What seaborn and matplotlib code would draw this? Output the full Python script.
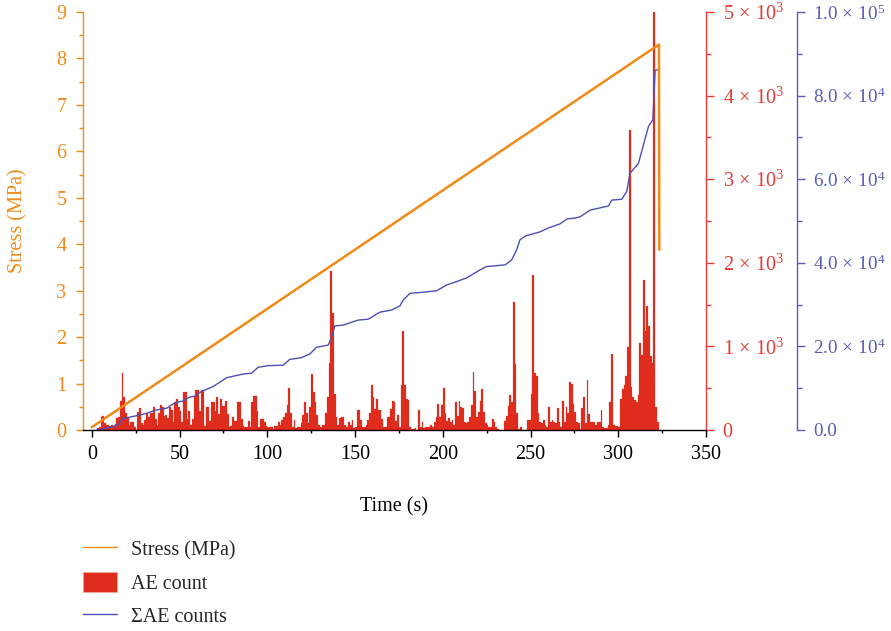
import numpy as np
import matplotlib
matplotlib.use("Agg")
import matplotlib.pyplot as plt
import seaborn as sns
from matplotlib.lines import Line2D
from matplotlib.patches import Patch
from matplotlib.ticker import MultipleLocator, FixedLocator, FixedFormatter

# ---------------- data ----------------
stress_time = [0.0, 323.2, 323.4]
stress_mpa = [0.06, 8.30, 3.88]

# AE count per 1-s bin, starting at t = 0 s
ae_count = [
    0, 0, 0, 20, 40, 160, 170, 80, 60, 60,
    50, 60, 50, 70, 140, 150, 350, 680, 400, 200,
    160, 60, 100, 90, 30, 0, 220, 260, 80, 60,
    120, 200, 150, 200, 200, 280, 130, 60, 200, 300,
    280, 170, 180, 140, 270, 240, 100, 340, 370, 270,
    230, 100, 460, 450, 130, 230, 60, 130, 410, 480,
    480, 230, 480, 480, 50, 280, 280, 110, 330, 330,
    230, 400, 190, 370, 290, 290, 350, 190, 30, 50,
    150, 110, 110, 330, 330, 130, 50, 30, 30, 110,
    30, 330, 410, 410, 230, 30, 130, 130, 90, 50,
    30, 30, 30, 10, 50, 50, 90, 60, 120, 160,
    200, 300, 500, 200, 40, 120, 20, 30, 40, 80,
    180, 340, 200, 80, 280, 670, 460, 340, 180, 60,
    40, 60, 60, 200, 400, 800, 1900, 1400, 430, 160,
    60, 140, 150, 150, 60, 40, 100, 60, 120, 20,
    40, 240, 240, 120, 40, 40, 60, 120, 200, 540,
    400, 250, 370, 240, 240, 130, 40, 30, 160, 160,
    250, 350, 340, 110, 180, 40, 540, 1180, 540, 370,
    360, 30, 10, 10, 20, 0, 240, 40, 90, 20,
    30, 30, 30, 60, 30, 100, 160, 310, 150, 300,
    500, 200, 110, 140, 90, 120, 60, 340, 170, 350,
    280, 260, 100, 80, 100, 160, 300, 690, 470, 160,
    220, 350, 490, 220, 80, 60, 30, 30, 130, 100,
    30, 10, 0, 0, 0, 110, 170, 290, 420, 340,
    1535, 786, 200, 10, 30, 0, 0, 0, 120, 120,
    430, 1850, 680, 650, 200, 100, 80, 120, 60, 40,
    280, 100, 120, 100, 80, 260, 90, 30, 350, 100,
    280, 200, 580, 550, 310, 220, 100, 80, 10, 260,
    390, 80, 600, 190, 90, 90, 100, 60, 90, 100,
    240, 40, 20, 20, 60, 340, 910, 60, 50, 50,
    40, 370, 490, 540, 640, 990, 3590, 520, 400, 360,
    340, 420, 1040, 900, 1800, 1180, 1480, 1240, 880, 800,
    5000, 280, 100,
]
ae_time = list(range(len(ae_count)))

cum_time = [3, 10, 15, 17.7, 19.8, 27.4, 31.2, 36.9, 42.6, 45.4, 48.6, 52, 55.9,
            58.7, 62.5, 69.2, 76.8, 86.3, 91.1, 94.8, 100.5, 109, 112.9, 119.5,
            124.3, 128.1, 134.7, 136.5, 138.5, 143.3, 151.8, 157.5, 164.2, 170.9,
            175.6, 177.5, 181.3, 187, 196.5, 202.2, 207.9, 213.6, 218.4, 221.2,
            225, 235.5, 239.3, 242.1, 244, 247, 255.4, 260, 266.8, 270.8, 275.4,
            278.2, 284, 294.4, 296.3, 302, 304.8, 306.7, 311.5, 317.2, 319.7,
            321, 322.9]
cum_count = [0, 600, 1200, 2700, 2900, 3600, 4000, 4800, 5200, 6000, 6700, 6900, 7900,
             8100, 9200, 10400, 12500, 13400, 13600, 15000, 15400, 15500, 16900, 17300,
             18200, 19800, 20300, 22000, 24900, 25100, 26300, 26500, 28200, 28700,
             29700, 31100, 32700, 32900, 33300, 34700, 35500, 36400, 37600, 38300,
             39100, 39500, 40700, 43100, 45500, 46400, 47400, 48300, 49300, 50500, 50700,
             51000, 52600, 53600, 55000, 55200, 57000, 61400, 63800, 72600, 74200,
             86000, 86300]

x_ticks = [0, 50, 100, 150, 200, 250, 300, 350]
stress_ticks = [0, 1, 2, 3, 4, 5, 6, 7, 8, 9]
red_ticks = [0, 1000, 2000, 3000, 4000, 5000]
red_tick_labels = ["0", r"$1\,\times\,10^{3}$", r"$2\,\times\,10^{3}$", r"$3\,\times\,10^{3}$",
                   r"$4\,\times\,10^{3}$", r"$5\,\times\,10^{3}$"]
blue_ticks = [0, 20000, 40000, 60000, 80000, 100000]
blue_tick_labels = ["0.0", r"$2.0\,\times\,10^{4}$", r"$4.0\,\times\,10^{4}$",
                    r"$6.0\,\times\,10^{4}$", r"$8.0\,\times\,10^{4}$",
                    r"$1.0\,\times\,10^{5}$"]
legend_labels = ["Stress (MPa)", "AE count", "ΣAE counts"]

# ---------------- style ----------------
ORANGE = "#F38A17"
RED = "#DF2C1C"
RED_AX = "#E63B36"
BLUE = "#4D4FB5"
BLUE_AX = "#5A5DB8"
FS = 14.5

sns.set_theme(style="white")
plt.rcParams["font.family"] = ["Liberation Serif", "DejaVu Serif"]
plt.rcParams["mathtext.fontset"] = "custom"
plt.rcParams["mathtext.rm"] = "Liberation Serif"
plt.rcParams["mathtext.it"] = "Liberation Serif:italic"
plt.rcParams["mathtext.bf"] = "Liberation Serif:bold"
plt.rcParams["axes.unicode_minus"] = False

fig = plt.figure(figsize=(8.91, 6.31), dpi=100)
L, R, T, B = 83, 706, 12, 430
ax = fig.add_axes([L / 891, 1 - B / 631, (R - L) / 891, (B - T) / 631])
ax_red = ax.twinx()
ax_blue = ax.twinx()

ax.set_zorder(3)
ax.patch.set_visible(False)
ax_blue.set_zorder(2)
ax_blue.patch.set_visible(False)
ax_red.set_zorder(1)

# bars
sns.histplot(x=ae_time, weights=ae_count, binwidth=1, binrange=(0, len(ae_count)),
             color=RED, edgecolor=RED, linewidth=0.15, alpha=1.0, ax=ax_red)
# cumulative
sns.lineplot(x=cum_time, y=cum_count, color=BLUE, linewidth=1.0, ax=ax_blue)
# stress
sns.lineplot(x=stress_time, y=stress_mpa, color=ORANGE, linewidth=1.8, ax=ax)

# limits
ax.set_xlim(-5, 350)
ax.set_ylim(0, 9)
ax_red.set_ylim(0, 5000)
ax_blue.set_ylim(0, 100000)
ax_red.set_xlim(-5, 350)

# spines
for a in (ax, ax_red, ax_blue):
    for s in a.spines.values():
        s.set_visible(False)
ax.spines["left"].set_visible(True)
ax.spines["left"].set_color(ORANGE)
ax.spines["bottom"].set_visible(True)
ax.spines["bottom"].set_color("black")
ax_red.spines["right"].set_visible(True)
ax_red.spines["right"].set_color(RED_AX)
ax_blue.spines["right"].set_visible(True)
ax_blue.spines["right"].set_color(BLUE_AX)
ax_blue.spines["right"].set_position(("axes", 1 + 91 / 623))
for a in (ax, ax_red, ax_blue):
    for s in a.spines.values():
        s.set_linewidth(1.0)

# ticks
ax.xaxis.set_major_locator(FixedLocator(x_ticks))
ax.xaxis.set_minor_locator(MultipleLocator(25))
ax.yaxis.set_major_locator(FixedLocator(stress_ticks))
ax.yaxis.set_minor_locator(MultipleLocator(0.5))
ax.tick_params(axis="x", which="major", direction="out", length=5, width=1,
               colors="black", labelsize=FS, pad=6, bottom=True)
ax.tick_params(axis="x", which="minor", direction="out", length=2.5, width=1,
               colors="black", bottom=True)
ax.tick_params(axis="y", which="major", direction="out", length=5, width=1,
               colors=ORANGE, labelsize=FS, pad=7, left=True)
ax.tick_params(axis="y", which="minor", direction="out", length=3, width=1,
               colors=ORANGE, left=True)

ax_red.yaxis.set_major_locator(FixedLocator(red_ticks))
ax_red.yaxis.set_major_formatter(FixedFormatter(red_tick_labels))
ax_red.yaxis.set_minor_locator(MultipleLocator(500))
ax_red.tick_params(axis="y", which="major", direction="out", length=6, width=1,
                   colors=RED_AX, labelsize=FS, pad=6, right=True)
ax_red.tick_params(axis="y", which="minor", direction="out", length=3.5, width=1,
                   colors=RED_AX, right=True)

ax_blue.yaxis.set_major_locator(FixedLocator(blue_ticks))
ax_blue.yaxis.set_major_formatter(FixedFormatter(blue_tick_labels))
ax_blue.yaxis.set_minor_locator(MultipleLocator(10000))
ax_blue.tick_params(axis="y", which="major", direction="out", length=6, width=1,
                    colors=BLUE_AX, labelsize=13.8, pad=5.5, right=True)
ax_blue.tick_params(axis="y", which="minor", direction="out", length=3.5, width=1,
                    colors=BLUE_AX, right=True)

ax_red.set_ylabel("")
ax_blue.set_ylabel("")
ax_red.set_xlabel("")
ax_blue.set_xlabel("")
ax.grid(False); ax_red.grid(False); ax_blue.grid(False)

ax.set_xlabel("Time (s)", fontsize=FS, color="black", labelpad=24)
ax.set_ylabel("Stress (MPa)", fontsize=FS, color=ORANGE, labelpad=21)

# legend
handles = [Line2D([], [], color=ORANGE, linewidth=1.0),
           Patch(facecolor=RED, edgecolor="#F3A79E", linewidth=0.5),
           Line2D([], [], color=BLUE, linewidth=1.0)]
fig.legend(handles=handles, labels=legend_labels, loc="upper left",
           bbox_to_anchor=(L / 891, 1 - 539 / 631), frameon=False, fontsize=FS,
           handlelength=1.7, handleheight=1.1, handletextpad=0.7,
           labelspacing=0.58, borderpad=0, borderaxespad=0)

fig.savefig("out.png", dpi=100)
